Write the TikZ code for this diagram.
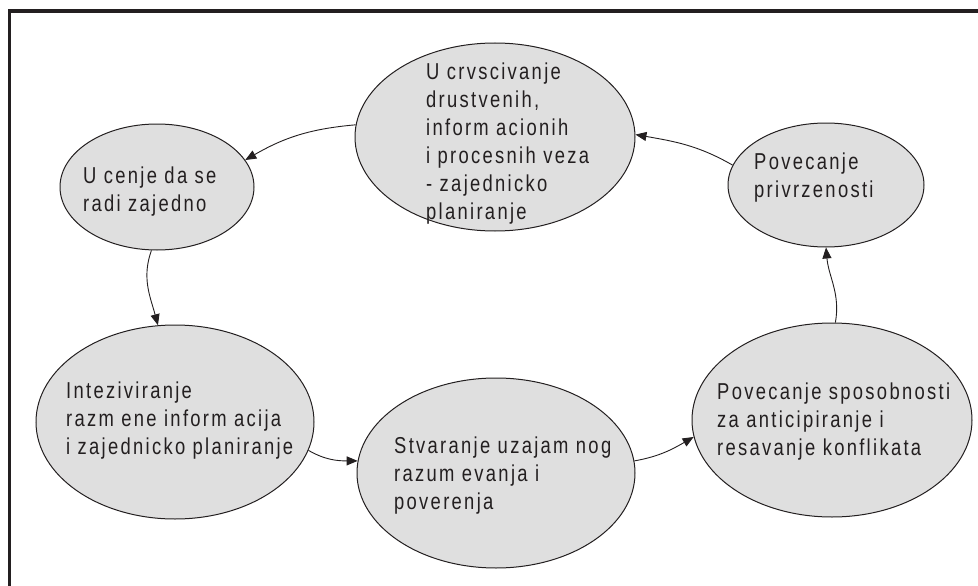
\documentclass[tikz,border=0pt]{standalone}
\usepackage{fontspec}
\setmainfont{Liberation Sans}[FakeStretch=0.8,LetterSpace=10]
\usetikzlibrary{shapes.geometric,arrows.meta}
\definecolor{ink}{RGB}{35,31,32}
\definecolor{bubble}{RGB}{223,223,223}
\tikzset{
  stage/.style={ellipse, draw=ink, fill=bubble, line width=1pt, inner sep=0pt},
  lbl/.style={anchor=north west, inner sep=0pt, align=left, text=ink, font=\fontsize{23}{28}\selectfont},
  link/.style={draw=ink, line width=0.9pt, -{Triangle[length=11pt,width=9pt]}}
}

\begin{document}
\begin{tikzpicture}[x=1pt, y=1pt]
  \useasboundingbox (0,0) rectangle (978,-586);
  \draw[ink, line width=3.3pt] (978,-11) -- (9.3,-11) -- (9.3,-586);

  % the six stages of the cycle
  \node[stage, minimum width=280pt, minimum height=188pt] (s1) at (495,-137) {};
  \node[stage, minimum width=194pt, minimum height=126pt] (s2) at (157,-187) {};
  \node[stage, minimum width=196pt, minimum height=124pt] (s3) at (826,-185) {};
  \node[stage, minimum width=278pt, minimum height=194pt] (s4) at (175,-422) {};
  \node[stage, minimum width=278pt, minimum height=190pt] (s5) at (496,-473) {};
  \node[stage, minimum width=280pt, minimum height=194pt] (s6) at (832,-420) {};

  \node[lbl] (t1) at (426,-63) {U crvscivanje\\drustvenih,\\inform acionih\\i procesnih veza\\- zajednicko\\planiranje};
  \node[lbl] (t2) at (83,-167) {U cenje da se\\radi zajedno};
  \node[lbl] (t3) at (754,-153) {Povecanje\\privrzenosti};
  \node[lbl] (t4) at (66,-382) {Inteziviranje\\razm ene inform acija\\i zajednicko planiranje};
  \node[lbl] (t5) at (394,-437) {Stvaranje uzajam nog\\razum evanja i\\poverenja};
  \node[lbl] (t6) at (717,-383) {Povecanje sposobnosti\\za anticipiranje i\\resavanje konflikata};

  % arrows round the cycle
  \draw[link] (s1.175) to[out=185, in=30] (s2.17);
  \draw[link] (s2.265) to[out=250, in=105] (s4.100);
  \draw[link] (s4.-12) to[out=-30, in=180] (s5.175);
  \draw[link] (s5.5) to[out=10, in=210] (s6.187);
  \draw[link] (s6.88) to[out=80, in=-85] (s3.-90);
  \draw[link] (s3.168) to[out=150, in=-10] (s1.1);
\end{tikzpicture}
\end{document}
